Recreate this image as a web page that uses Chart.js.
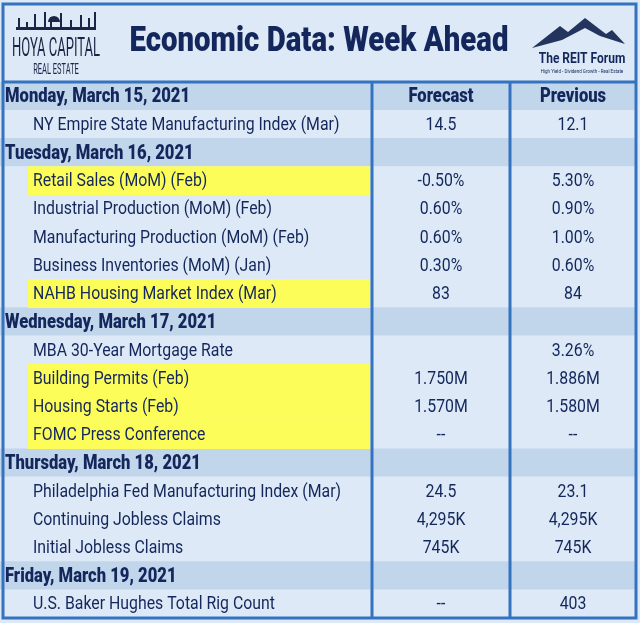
<!DOCTYPE html>
<html>
<head>
<meta charset="utf-8">
<script src="https://cdn.jsdelivr.net/npm/chart.js@4"></script>
<style>
  html, body { margin: 0; padding: 0; background: #ffffff; }
  #wrap { width: 640px; height: 623px; }
</style>
</head>
<body>
<div id="wrap"><canvas id="table"></canvas></div>
<script>
// Row data
const rowLabels = [
  'Monday, March 15, 2021',
  'NY Empire State Manufacturing Index (Mar)',
  'Tuesday, March 16, 2021',
  'Retail Sales (MoM) (Feb)',
  'Industrial Production (MoM) (Feb)',
  'Manufacturing Production (MoM) (Feb)',
  'Business Inventories (MoM) (Jan)',
  'NAHB Housing Market Index (Mar)',
  'Wednesday, March 17, 2021',
  'MBA 30-Year Mortgage Rate',
  'Building Permits (Feb)',
  'Housing Starts (Feb)',
  'FOMC Press Conference',
  'Thursday, March 18, 2021',
  'Philadelphia Fed Manufacturing Index (Mar)',
  'Continuing Jobless Claims',
  'Initial Jobless Claims',
  'Friday, March 19, 2021',
  'U.S. Baker Hughes Total Rig Count'
];
const forecast = ['Forecast', '14.5', '', '-0.50%', '0.60%', '0.60%', '0.30%', '83', '', '', '1.750M', '1.570M', '--', '', '24.5', '4,295K', '745K', '', '--'];
const previous = ['Previous', '12.1', '', '5.30%', '0.90%', '1.00%', '0.60%', '84', '', '3.26%', '1.886M', '1.580M', '--', '', '23.1', '4,295K', '745K', '', '403'];
const isDateRow = [1, 0, 1, 0, 0, 0, 0, 0, 1, 0, 0, 0, 0, 1, 0, 0, 0, 1, 0];
const isHighlight = [0, 0, 0, 1, 0, 0, 0, 1, 0, 0, 1, 1, 1, 0, 0, 0, 0, 0, 0];

const NAVY = '#13275c';
const EDGE = '#3473c0';
const LIGHT = '#dde9f6';
const DARK = '#c2d6eb';
const YELLOW = '#fdfd5a';
const COL1 = 372, COL2 = 510, RIGHT = 636;

// draw horizontally squeezed text (the original uses a condensed face)
function narrowText(ctx, text, x, y, font, squeeze, align) {
  ctx.save();
  ctx.font = font;
  ctx.textAlign = align;
  ctx.translate(x, y);
  ctx.scale(squeeze, 1);
  ctx.fillText(text, 0, 0);
  ctx.restore();
}

const tablePlugin = {
  id: 'tableText',
  beforeDraw(chart) {
    const ctx = chart.ctx;
    ctx.save();
    ctx.fillStyle = LIGHT;
    ctx.fillRect(0, 0, 640, 623);
    ctx.restore();
  },
  afterDraw(chart) {
    const ctx = chart.ctx;
    const y = chart.scales.y;
    const x = chart.scales.x;
    const top = chart.chartArea.top, bottom = chart.chartArea.bottom;
    ctx.save();
    ctx.textBaseline = 'middle';

    // header title
    ctx.fillStyle = NAVY;
    narrowText(ctx, 'Economic Data: Week Ahead', 319, 42, '900 35px Roboto, sans-serif', 0.84, 'center');

    // left logo
    ctx.fillStyle = '#1b2547';
    ctx.fillRect(16, 27, 80, 3);
    [[18,18],[26,22],[34,14],[44,12],[50,17],[60,13],[70,20],[80,15],[88,18],[94,12]].forEach(p => {
      ctx.fillRect(p[0], p[1], 2, 28 - p[1]);
    });
    ctx.beginPath(); ctx.arc(54, 22, 6, Math.PI, 0); ctx.fill();
    narrowText(ctx, 'HOYA CAPITAL', 56, 49, '26px Roboto, sans-serif', 0.5, 'center');
    narrowText(ctx, 'REAL ESTATE', 56, 70, '15px Roboto, sans-serif', 0.5, 'center');

    // right logo
    ctx.fillStyle = '#23355e';
    ctx.beginPath();
    ctx.moveTo(532, 48); ctx.lineTo(560, 26); ctx.lineTo(568, 32);
    ctx.lineTo(585, 18); ctx.lineTo(606, 34); ctx.lineTo(612, 30);
    ctx.lineTo(625, 44); ctx.lineTo(600, 36); ctx.lineTo(585, 28);
    ctx.lineTo(562, 40); ctx.closePath(); ctx.fill();
    ctx.fillStyle = NAVY;
    narrowText(ctx, 'The REIT Forum', 582, 59, 'bold 15px Roboto, sans-serif', 0.8, 'center');
    narrowText(ctx, 'High Yield - Dividend Growth - Real Estate', 582, 72, '5px Roboto, sans-serif', 0.9, 'center');

    // table rows text
    rowLabels.forEach((label, i) => {
      const cy = y.getPixelForValue(i) + 1;
      ctx.fillStyle = NAVY;
      if (isDateRow[i]) {
        narrowText(ctx, label, 5, cy, '900 20px Roboto, sans-serif', 0.83, 'left');
      } else {
        narrowText(ctx, label, 33, cy, '18px Roboto, sans-serif', 0.88, 'left');
      }
      const font = i === 0 ? '900 20px Roboto, sans-serif' : '18px Roboto, sans-serif';
      const sq = i === 0 ? 0.83 : 0.88;
      narrowText(ctx, forecast[i], (COL1 + COL2) / 2, cy, font, sq, 'center');
      narrowText(ctx, previous[i], (COL2 + RIGHT) / 2, cy, font, sq, 'center');
    });

    // grid lines
    ctx.strokeStyle = EDGE;
    ctx.lineWidth = 3;
    ctx.strokeRect(3, 4, RIGHT - 3, bottom - 4);
    ctx.beginPath();
    ctx.moveTo(3, top); ctx.lineTo(RIGHT, top);
    ctx.moveTo(x.getPixelForValue(COL1), top); ctx.lineTo(x.getPixelForValue(COL1), bottom);
    ctx.moveTo(x.getPixelForValue(COL2), top); ctx.lineTo(x.getPixelForValue(COL2), bottom);
    ctx.stroke();
    ctx.restore();
  }
};

const rowFill = rowLabels.map(() => [0, RIGHT]);
const rowColors = isDateRow.map(d => d ? DARK : LIGHT);
const hiFill = isHighlight.map(h => h ? [28, COL1 - 2] : null);

new Chart(document.getElementById('table'), {
  type: 'bar',
  data: {
    labels: rowLabels,
    datasets: [
      { data: rowFill, backgroundColor: rowColors, borderWidth: 0, grouped: false, order: 2 },
      { data: hiFill, backgroundColor: YELLOW, borderWidth: 0, grouped: false, order: 1 }
    ]
  },
  options: {
    indexAxis: 'y',
    responsive: true,
    maintainAspectRatio: false,
    animation: false,
    events: [],
    layout: { padding: { top: 82, bottom: 5, left: 0, right: 0 } },
    datasets: { bar: { barPercentage: 1, categoryPercentage: 1 } },
    plugins: { legend: { display: false }, tooltip: { enabled: false } },
    scales: {
      x: { type: 'linear', min: 0, max: 640, display: false },
      y: { display: false, grid: { display: false } }
    }
  },
  plugins: [tablePlugin]
});
</script>
</body>
</html>
